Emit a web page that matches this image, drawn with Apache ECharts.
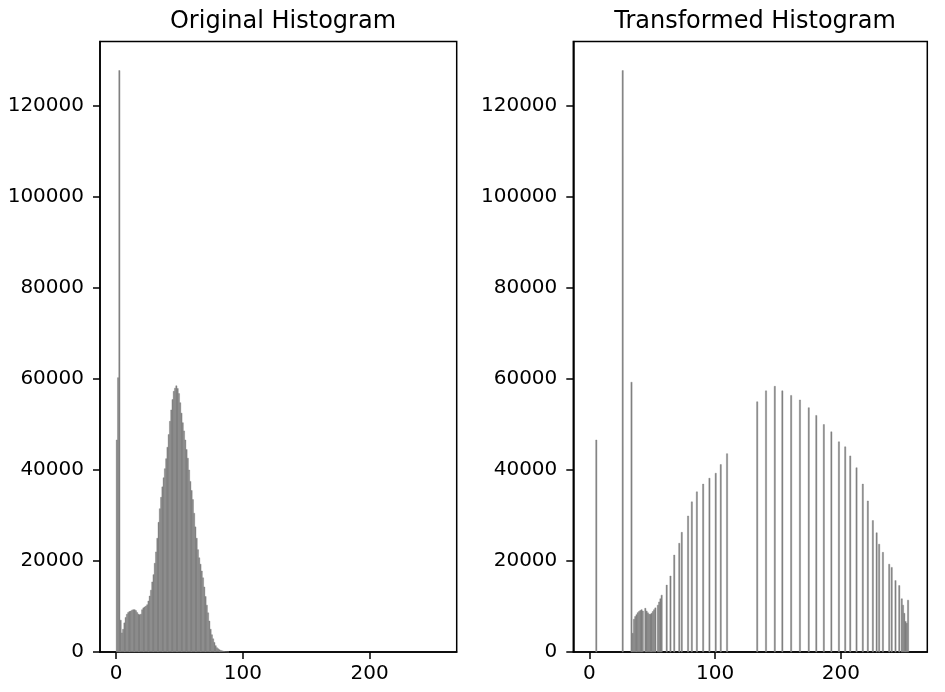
<!DOCTYPE html>
<html>
<head>
<meta charset="utf-8">
<script src="https://cdn.jsdelivr.net/npm/echarts@6/dist/echarts.min.js"></script>
<style>
html,body{margin:0;padding:0;background:#fff;}
#chart{width:945px;height:692px;}
</style>
</head>
<body>
<div id="chart"></div>
<script>
// Original histogram: counts for pixel values 0..88 (rest zero)
const originalCounts = [
  46600, 60300, 127800, 7000, 4200, 5000, 6400, 7600, 8300, 8700,
  8900, 9000, 9200, 9300, 9300, 9100, 8700, 8300, 8200, 8300,
  9300, 9700, 9900, 10100, 10400, 11200, 12300, 13600, 15400, 17000,
  19500, 22000, 25000, 28500, 31500, 34000, 36300, 38300, 40300, 42500,
  45000, 47800, 50700, 53200, 55500, 57300, 58000, 58500, 57900, 56800,
  54800, 52500, 50400, 48600, 46600, 44500, 42600, 40000, 37500, 35500,
  33500, 30500, 27500, 25000, 22500, 20700, 19300, 17800, 16300, 14300,
  12200, 10300, 8600, 6800, 5000, 3800, 2900, 2100, 1400, 950,
  700, 500, 350, 250, 170, 120, 80, 50, 30
];
// Transformed histogram: occupied bins and their counts
const transformedBins = [
  5, 26, 33, 34, 35, 36, 37, 38, 39, 40, 41, 42,
  44, 45, 46, 47, 48, 49, 50, 51, 52,
  54, 55, 56, 57, 61, 64, 67, 71, 73, 78, 81, 85, 90, 95, 100, 104, 109,
  133, 140, 147, 153, 160, 167, 174, 180, 186, 192, 198, 203, 207, 212,
  217, 221, 225, 228, 230, 233, 238, 240, 243, 246, 248, 249, 250, 251, 252, 253
];
const transformedCounts = [
  46600, 127800, 59300, 4100, 7200, 7800, 8200, 8650, 8900, 9100, 9300, 9000,
  9600, 9000, 8600, 8300, 8300, 8500, 8900, 9300, 9700,
  10300, 11000, 11700, 12500, 14700, 16700, 21300, 23900, 26300, 29900, 33000, 35200, 36900, 38200, 39300, 41200, 43600,
  55000, 57400, 58400, 57400, 56400, 55400, 53700, 52000, 50000, 48400, 46200, 45100, 43100, 40500,
  36900, 33200, 28900, 26200, 23700, 21900, 19300, 18600, 15700, 14600, 11700, 10300, 8500, 6700, 6300, 11400
];
const xTicks = [0, 100, 200];
const yTicks = [0, 20000, 40000, 60000, 80000, 100000, 120000];
const titles = ['Original Histogram', 'Transformed Histogram'];
const binWidth = 1;
const xRange = [-12.8, 268.8];
const yMax = 134190;

const leftData = originalCounts.map((c, i) => [i, c]).filter(d => d[1] > 0);
const rightData = transformedBins.map((b, i) => [b, transformedCounts[i]]);

const FONT = 'DejaVu Sans';
function renderBar(params, api) {
  const x0 = api.value(0), h = api.value(1);
  const p0 = api.coord([x0, h]);
  const p1 = api.coord([x0 + binWidth, 0]);
  return {
    type: 'rect',
    shape: { x: p0[0], y: p0[1], width: p1[0] - p0[0], height: p1[1] - p0[1] },
    style: { fill: '#808080', stroke: '#808080', lineWidth: 0.4 }
  };
}
function xAxis(gi) {
  return {
    type: 'value', gridIndex: gi, min: xRange[0], max: xRange[1],
    axisLine: { show: true, onZero: false, lineStyle: { color: '#000', width: 1.5 } },
    axisTick: { show: true, length: 7, lineStyle: { color: '#000', width: 1.5 }, customValues: xTicks },
    axisLabel: { customValues: xTicks, margin: 12, fontFamily: FONT, fontSize: 20, color: '#000', formatter: v => String(v) },
    splitLine: { show: false }
  };
}
function yAxis(gi) {
  return {
    type: 'value', gridIndex: gi, min: 0, max: yMax,
    axisLine: { show: true, onZero: false, lineStyle: { color: '#000', width: 1.5 } },
    axisTick: { show: true, length: 7, lineStyle: { color: '#000', width: 1.5 }, customValues: yTicks },
    axisLabel: { customValues: yTicks, margin: 16, fontFamily: FONT, fontSize: 20, color: '#000', formatter: v => String(v) },
    splitLine: { show: false }
  };
}
const chart = echarts.init(document.getElementById('chart'), null, { renderer: 'canvas' });
chart.setOption({
  animation: false,
  backgroundColor: '#fff',
  title: [
    { text: titles[0], left: 278, top: 5, textAlign: 'center', textStyle: { fontFamily: FONT, fontSize: 24, fontWeight: 'normal', color: '#000' } },
    { text: titles[1], left: 750, top: 5, textAlign: 'center', textStyle: { fontFamily: FONT, fontSize: 24, fontWeight: 'normal', color: '#000' } }
  ],
  grid: [
    { left: 100, top: 41.5, width: 356.7, height: 610.5, show: true, borderColor: '#000', borderWidth: 1.5, backgroundColor: 'transparent' },
    { left: 573.3, top: 41.5, width: 354, height: 610.5, show: true, borderColor: '#000', borderWidth: 1.5, backgroundColor: 'transparent' }
  ],
  xAxis: [xAxis(0), xAxis(1)],
  yAxis: [yAxis(0), yAxis(1)],
  series: [
    { type: 'custom', xAxisIndex: 0, yAxisIndex: 0, renderItem: renderBar, data: leftData, encode: { x: 0, y: 1 } },
    { type: 'custom', xAxisIndex: 1, yAxisIndex: 1, renderItem: renderBar, data: rightData, encode: { x: 0, y: 1 } }
  ]
});
</script>
</body>
</html>
